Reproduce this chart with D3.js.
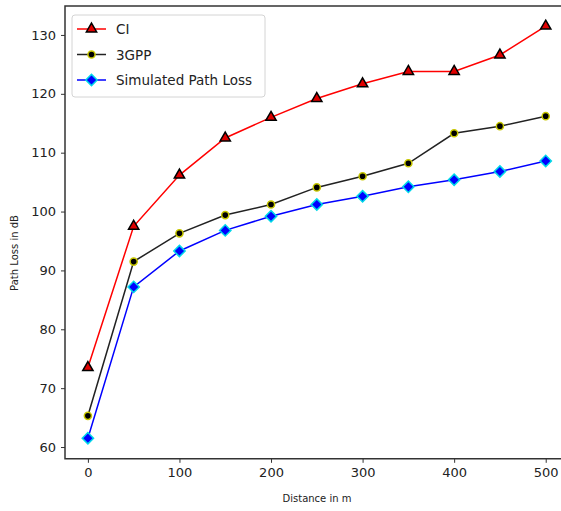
<!DOCTYPE html>
<html>
<head>
<meta charset="utf-8">
<script src="https://cdn.jsdelivr.net/npm/d3@7"></script>
<style>
  body { margin: 0; background: #fff; }
  svg { font-family: "DejaVu Sans", sans-serif; display: block; }
</style>
</head>
<body>
<figure style="margin:0"></figure>
<script>
const distances = [0, 50, 100, 150, 200, 250, 300, 350, 400, 450, 500]
const ciLoss = [73.5, 97.5, 106.2, 112.5, 116.0, 119.2, 121.7, 123.8, 123.8, 126.6, 131.5]
const gppLoss = [65.3, 91.5, 96.3, 99.4, 101.2, 104.1, 106.0, 108.2, 113.3, 114.5, 116.2]
const simLoss = [61.5, 87.2, 93.3, 96.8, 99.2, 101.2, 102.6, 104.2, 105.4, 106.8, 108.6]
const xTicks = [0, 100, 200, 300, 400, 500]
const yTicks = [60, 70, 80, 90, 100, 110, 120, 130]

const W = 561, H = 511
const svg = d3.select("figure").append("svg").attr("width", W).attr("height", H)
    .attr("viewBox", `0 0 ${W} ${H}`)

const x = d3.scaleLinear().domain([-25, 525]).range([65, 568.6]),
    y = d3.scaleLinear().domain([58, 134.9]).range([458.8, 6.1])

const series = [
    {name: "CI", values: ciLoss, line: "#ff0000", marker: "triangle", fill: "#e00000", edge: "#000"},
    {name: "3GPP", values: gppLoss, line: "#222", marker: "circle", fill: "#000", edge: "#c8c800"},
    {name: "Simulated Path Loss", values: simLoss, line: "#0000ff", marker: "diamond", fill: "#0000ff", edge: "#00d8e8"}
]

const symbolFor = m => m == "triangle" ? d3.symbol(d3.symbolTriangle, 46)()
    : m == "diamond" ? d3.symbol(d3.symbolSquare, 64)()
    : d3.symbol(d3.symbolCircle, 40)()

const line = d3.line().x(d => x(d[0])).y(d => y(d[1]))

// axes
svg.append("g").attr("transform", `translate(0,${y.range()[0]})`)
    .call(d3.axisBottom(x).tickValues(xTicks).tickSize(4).tickPadding(5))
    .call(g => g.selectAll("text").attr("font-size", 13).attr("fill", "#222").attr("font-family", "DejaVu Sans"))
svg.append("g").attr("transform", `translate(${x.range()[0]},0)`)
    .call(d3.axisLeft(y).tickValues(yTicks).tickSize(4).tickPadding(5))
    .call(g => g.selectAll("text").attr("font-size", 13).attr("fill", "#222").attr("font-family", "DejaVu Sans"))
svg.selectAll(".domain").remove()
svg.selectAll(".tick line").attr("stroke", "#333")

// frame
svg.append("path")
    .attr("d", `M${W + 5},${y.range()[1]}H${x.range()[0]}V${y.range()[0]}H${W + 5}`)
    .attr("fill", "none").attr("stroke", "#333").attr("stroke-width", 1.5)

// series
for (const s of series) {
    const pts = distances.map((d, i) => [d, s.values[i]])
    svg.append("path").datum(pts).attr("d", line)
        .attr("fill", "none").attr("stroke", s.line).attr("stroke-width", 1.5)
    svg.append("g").selectAll("path").data(pts).enter().append("path")
        .attr("d", symbolFor(s.marker))
        .attr("transform", d => `translate(${x(d[0])},${y(d[1])})` + (s.marker == "diamond" ? " rotate(45)" : ""))
        .attr("fill", s.fill).attr("stroke", s.edge).attr("stroke-width", 1.5)
}

// axis titles
svg.append("text").text("Distance in m")
    .attr("x", 317).attr("y", 502).attr("text-anchor", "middle")
    .attr("font-size", 10).attr("fill", "#222")
svg.append("text").text("Path Loss in dB")
    .attr("transform", "translate(18,253) rotate(-90)").attr("text-anchor", "middle")
    .attr("font-size", 10).attr("fill", "#222")

// legend
const legend = svg.append("g").attr("transform", "translate(72,15)")
legend.append("rect").attr("width", 193).attr("height", 82).attr("rx", 3)
    .attr("fill", "#fff").attr("stroke", "#d4d4d4")
series.forEach((s, i) => {
    const ly = 14 + i * 25.5
    legend.append("line").attr("x1", 5).attr("x2", 34).attr("y1", ly).attr("y2", ly)
        .attr("stroke", s.line).attr("stroke-width", 1.5)
    legend.append("path").attr("d", symbolFor(s.marker))
        .attr("transform", `translate(19.5,${ly})` + (s.marker == "diamond" ? " rotate(45)" : ""))
        .attr("fill", s.fill).attr("stroke", s.edge).attr("stroke-width", 1.5)
    legend.append("text").text(s.name).attr("x", 44).attr("y", ly + 5)
        .attr("font-size", 13.5).attr("fill", "#222")
})
</script>
</body>
</html>
